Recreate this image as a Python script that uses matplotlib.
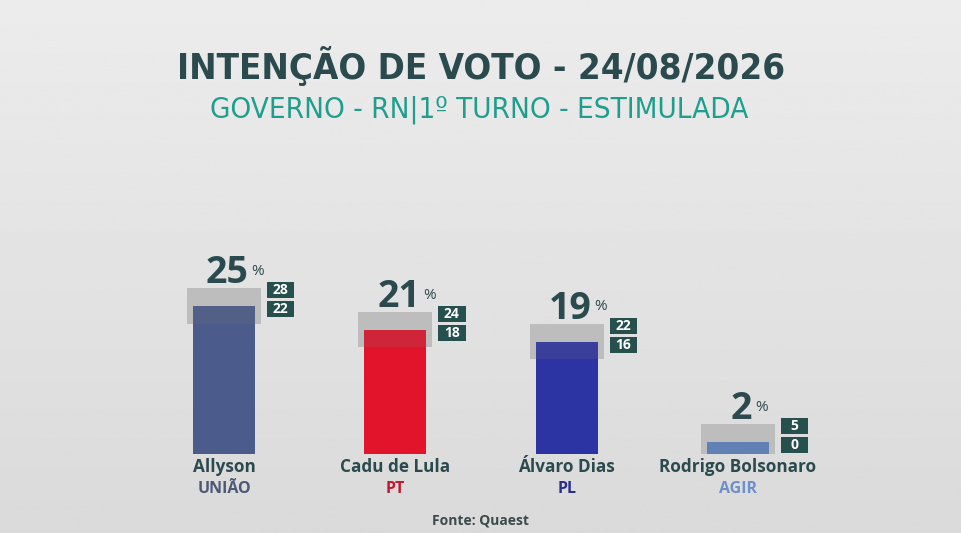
import numpy as np
import matplotlib.pyplot as plt
from matplotlib.patches import Rectangle
from matplotlib import font_manager

# poll values (Quaest, 24/08/2026)
candidates = ['Allyson', 'Cadu de Lula', 'Álvaro Dias', 'Rodrigo Bolsonaro']
parties = ['UNIÃO', 'PT', 'PL', 'AGIR']
votes = [25, 21, 19, 2]
upper = [28, 24, 22, 5]
lower = [22, 18, 16, 0]

bar_colors = ['#4b5b8c', '#e2142c', '#2c33a2', '#5d84c2']
party_colors = ['#4b5876', '#c3182c', '#2a2f8c', '#6d8fca']
dark = '#2a4a4e'
teal = '#1f9e8e'
box_dark = '#25504e'

names = {f.name for f in font_manager.fontManager.ttflist}
body = 'Open Sans' if 'Open Sans' in names else 'DejaVu Sans'

fig = plt.figure(figsize=(9.62, 5.33), dpi=100)

# background gradient
bg = fig.add_axes([0, 0, 1, 1], zorder=-10)
grad = np.linspace(0.925, 0.855, 256).reshape(-1, 1)
bg.imshow(grad, aspect='auto', cmap='gray', vmin=0, vmax=1, extent=[0, 1, 0, 1])
bg.axis('off')

ax = fig.add_axes([0.1439, 0.1482, 0.7123, 0.4443])
ax.set_xlim(-0.5, 3.5)
ax.set_ylim(0, 40)
ax.axis('off')

x = np.arange(len(candidates))
bw = 0.362
boxw = 0.432
u = 5.92  # px per unit, used to convert pixel offsets

for i in x:
    # margin box
    ax.add_patch(Rectangle((i - boxw / 2, lower[i]), boxw, upper[i] - lower[i],
                           color='#bdbdbd', zorder=1, lw=0))
    ax.bar(i, votes[i], width=bw, color=bar_colors[i], zorder=2)
    ax.add_patch(Rectangle((i - bw / 2, lower[i]), bw, votes[i] - lower[i],
                           color='#777777', alpha=0.18, zorder=3, lw=0))

    # value label
    t = ax.text(i + 0.02, upper[i] + 5 / u, str(votes[i]), ha='center', va='baseline',
                fontsize=27, fontweight='bold', color=dark, family=body)
    ax.annotate('%', xy=(1, 0.55), xycoords=t, xytext=(2, 0), textcoords='offset points',
                ha='left', va='center', fontsize=11, color=dark, family=body)

    # upper / lower small boxes
    h = 16 / u
    top = upper[i] + 6 / u
    for k, val in enumerate([upper[i], lower[i]]):
        y0 = top - h - k * (h + 3 / u)
        ax.add_patch(Rectangle((i + 0.25, y0), 0.16, h, color=box_dark, zorder=4, lw=0))
        ax.text(i + 0.33, y0 + h / 2, str(val), ha='center', va='center',
                fontsize=10, fontweight='bold', color='white', family=body, zorder=5)

    ax.text(i, -13 / u, candidates[i], ha='center', va='center', fontsize=12.3,
            fontweight='bold', color=dark, family=body)
    ax.text(i, -35 / u, parties[i], ha='center', va='center', fontsize=11.5,
            fontweight='bold', color=party_colors[i], family=body)

title = fig.text(0.5005, 1 - 79 / 533, 'INTENÇÃO DE VOTO - 24/08/2026', ha='center',
                 va='baseline', fontsize=30, fontweight='bold', color=dark,
                 family='DejaVu Sans', fontstretch='condensed')
sub = fig.text(0.498, 1 - 117 / 533, 'GOVERNO - RN|1º TURNO - ESTIMULADA', ha='center',
               va='baseline', fontsize=21, color=teal, family='DejaVu Sans',
               fontstretch='condensed')
fig.text(0.5, 0.023, 'Fonte: Quaest', ha='center', va='center', fontsize=10,
         fontweight='bold', color='#3b4b4b', family=body)

# squeeze the header lines to the widths of the original
fig.canvas.draw()
for txt, width in [(title, 607), (sub, 538)]:
    w = txt.get_window_extent().width
    txt.set_fontsize(txt.get_fontsize() * width / w)

plt.savefig('out.png', dpi=100)
